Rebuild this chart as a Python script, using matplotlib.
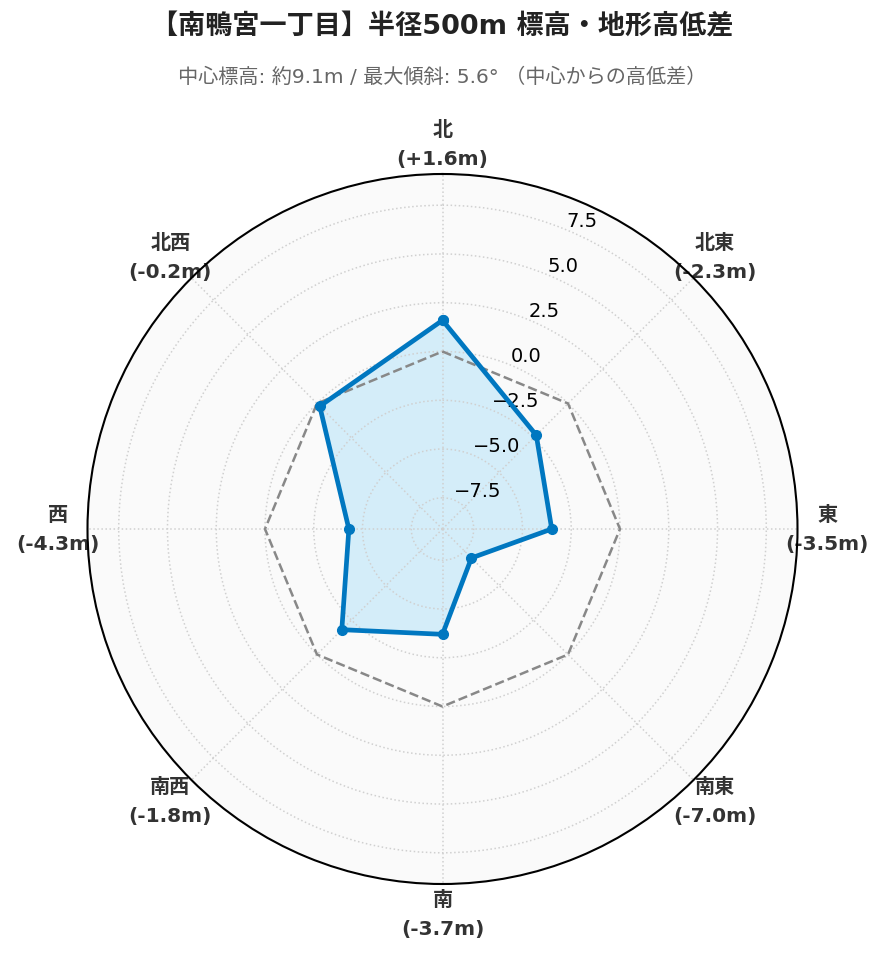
import numpy as np
import matplotlib
matplotlib.use('Agg')
import matplotlib.pyplot as plt

plt.rcParams['font.family'] = ['DejaVu Sans', 'Noto Sans CJK JP']

# data
directions = ['北', '北東', '東', '南東', '南', '南西', '西', '北西']
diffs = [1.6, -2.3, -3.5, -7.0, -3.7, -1.8, -4.3, -0.2]
center_elev = 9.1
max_slope = 5.6
r_ticks = [-7.5, -5.0, -2.5, 0.0, 2.5, 5.0, 7.5]

title = '【南鴨宮一丁目】半径500m 標高・地形高低差'
subtitle = f'中心標高: 約{center_elev}m / 最大傾斜: {max_slope}° （中心からの高低差）'

n = len(directions)
angles = np.arange(n) * 2 * np.pi / n
ang_closed = np.append(angles, angles[0])
vals_closed = np.append(diffs, diffs[0])

fig = plt.figure(figsize=(8.85, 9.62), dpi=100)
ax = fig.add_axes([87 / 885, 77 / 962, 711 / 885, 710 / 962], polar=True)
ax.set_facecolor('#fafafa')
ax.set_theta_zero_location('N')
ax.set_theta_direction(-1)
ax.set_ylim(-center_elev, center_elev)

# fill under grid, zero line dashed
ax.fill(ang_closed, vals_closed, color='#d4edf9', zorder=1)
ax.plot(ang_closed, np.zeros_like(ang_closed), '--', color='#888888', lw=1.8, zorder=2)
ax.plot(ang_closed, vals_closed, '-o', color='#0077c0', lw=3.4, markersize=7, zorder=4)

labels = [f'{d}\n({v:+.1f}m)' if v > 0 else f'{d}\n({v:.1f}m)' for d, v in zip(directions, diffs)]
ax.set_xticks(angles)
ax.set_xticklabels(labels, fontsize=14.5, fontweight='bold', color='#333333', linespacing=1.65)
ax.tick_params(axis='x', pad=11)
ax.set_yticks(r_ticks)
ax.tick_params(axis='y', labelsize=14, labelcolor='black')
ax.grid(True, linestyle=':', color='#d0d0d0', lw=1.1)
ax.spines['polar'].set_color('black')
ax.spines['polar'].set_linewidth(1.5)

fig.text(0.5, 1 - 27 / 962, title, ha='center', va='center', fontsize=19.5, fontweight='bold', color='#222222')
fig.text(0.5, 1 - 77 / 962, subtitle, ha='center', va='center', fontsize=14.5, color='#666666')

fig.savefig('out.png', dpi=100)
